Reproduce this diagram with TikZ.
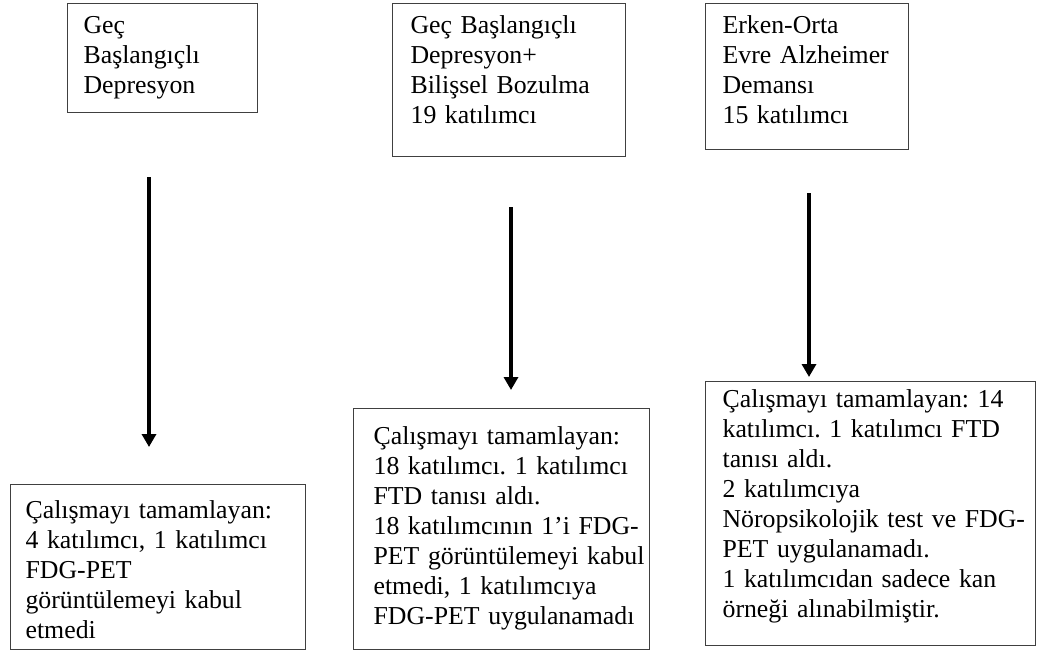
\documentclass[tikz,border=0pt]{standalone}
\usepackage{fontspec}
\setmainfont{Liberation Serif}
\usepackage{tikz}
\usetikzlibrary{arrows.meta, positioning}
\frenchspacing
\tikzset{
  box/.style={draw=black!75, line width=0.6pt, anchor=north west, inner sep=0pt,
    align=left, font=\fontsize{12.9}{15}\selectfont},
  lpad/.style={execute at begin node={\leftskip=#1}},
  flow/.style={-{Triangle[length=6.5pt,width=7pt]}, line width=2pt}
}

\begin{document}
\begin{tikzpicture}[x=0.5pt, y=-0.5pt]
\useasboundingbox (0,0) rectangle (1039,652);
\node[box, lpad=8pt, text width=95pt, text height=15pt, text depth=39.5pt] (top1) at (67,3)
  {Geç\\Başlangıçlı\\Depresyon};
\node[box, lpad=9pt, text width=116.5pt, text height=15pt, text depth=61.5pt] (top2) at (392,3)
  {Geç Başlangıçlı\\Depresyon+\\Bilişsel Bozulma\\19 katılımcı};
\node[box, lpad=8.5pt, text width=101.5pt, text height=15pt, text depth=58pt] (top3) at (705,3)
  {Erken-Orta\\Evre Alzheimer\\Demansı\\15 katılımcı};

\node[box, lpad=7.5pt, text width=147.5pt, text height=17pt, text depth=65.5pt] (bot1) at (10,484)
  {Çalışmayı tamamlayan:\\4 katılımcı, 1 katılımcı\\FDG-PET\\görüntülemeyi kabul\\etmedi};
\node[box, lpad=10pt, text width=148pt, text height=18pt, text depth=102.5pt] (bot2) at (353,408)
  {Çalışmayı tamamlayan:\\18 katılımcı. 1 katılımcı\\FTD tanısı aldı.\\18 katılımcının 1’i FDG-\\PET görüntülemeyi kabul\\etmedi, 1 katılımcıya\\FDG-PET uygulanamadı};
\node[box, lpad=8.5pt, text width=165pt, text height=13pt, text depth=119pt] (bot3) at (705,381)
  {Çalışmayı tamamlayan: 14\\katılımcı. 1 katılımcı FTD\\tanısı aldı.\\2 katılımcıya\\Nöropsikolojik test ve FDG-\\PET uygulanamadı.\\1 katılımcıdan sadece kan\\örneği alınabilmiştir.};

\draw[flow, shorten <=32pt, shorten >=18.5pt] (top1.south -| 149,0) -- (bot1.north -| 149,0);
\draw[flow, shorten <=25pt, shorten >=9pt] (top2.south -| 511,0) -- (bot2.north -| 511,0);
\draw[flow, shorten <=21.5pt, shorten >=2pt] (top3.south -| 809,0) -- (bot3.north -| 809,0);
\end{tikzpicture}
\end{document}
